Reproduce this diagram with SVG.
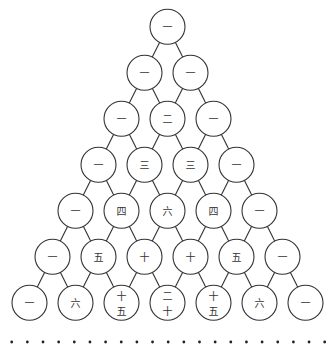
<svg xmlns="http://www.w3.org/2000/svg" width="327" height="344" viewBox="0 0 327 344">
<style>
.n circle{fill:#fff;stroke:#333;stroke-width:1.1}
.n text{font-family:"Noto Sans CJK SC","Noto Sans CJK JP",sans-serif;font-size:10px;fill:#333;text-anchor:middle;dominant-baseline:central}
#edges line{stroke:#333;stroke-width:1.1}
#dots circle{fill:#222}
</style>
<rect width="327" height="344" fill="#fff"/>
<g id="edges">
<line x1="159.67" y1="42.35" x2="152.33" y2="57.05"/><line x1="175.33" y1="42.35" x2="182.67" y2="57.05"/>
<line x1="136.67" y1="88.35" x2="129.33" y2="103.05"/><line x1="152.33" y1="88.35" x2="159.67" y2="103.05"/>
<line x1="182.67" y1="88.35" x2="175.33" y2="103.05"/><line x1="198.33" y1="88.35" x2="205.67" y2="103.05"/>
<line x1="113.67" y1="134.35" x2="106.33" y2="149.05"/><line x1="129.33" y1="134.35" x2="136.67" y2="149.05"/>
<line x1="159.67" y1="134.35" x2="152.33" y2="149.05"/><line x1="175.33" y1="134.35" x2="182.67" y2="149.05"/>
<line x1="205.67" y1="134.35" x2="198.33" y2="149.05"/><line x1="221.33" y1="134.35" x2="228.67" y2="149.05"/>
<line x1="90.67" y1="180.35" x2="83.33" y2="195.05"/><line x1="106.33" y1="180.35" x2="113.67" y2="195.05"/>
<line x1="136.67" y1="180.35" x2="129.33" y2="195.05"/><line x1="152.33" y1="180.35" x2="159.67" y2="195.05"/>
<line x1="182.67" y1="180.35" x2="175.33" y2="195.05"/><line x1="198.33" y1="180.35" x2="205.67" y2="195.05"/>
<line x1="228.67" y1="180.35" x2="221.33" y2="195.05"/><line x1="244.33" y1="180.35" x2="251.67" y2="195.05"/>
<line x1="67.67" y1="226.35" x2="60.33" y2="241.05"/><line x1="83.33" y1="226.35" x2="90.67" y2="241.05"/>
<line x1="113.67" y1="226.35" x2="106.33" y2="241.05"/><line x1="129.33" y1="226.35" x2="136.67" y2="241.05"/>
<line x1="159.67" y1="226.35" x2="152.33" y2="241.05"/><line x1="175.33" y1="226.35" x2="182.67" y2="241.05"/>
<line x1="205.67" y1="226.35" x2="198.33" y2="241.05"/><line x1="221.33" y1="226.35" x2="228.67" y2="241.05"/>
<line x1="251.67" y1="226.35" x2="244.33" y2="241.05"/><line x1="267.33" y1="226.35" x2="274.67" y2="241.05"/>
<line x1="44.67" y1="272.35" x2="37.33" y2="287.05"/><line x1="60.33" y1="272.35" x2="67.67" y2="287.05"/>
<line x1="90.67" y1="272.35" x2="83.33" y2="287.05"/><line x1="106.33" y1="272.35" x2="113.67" y2="287.05"/>
<line x1="136.67" y1="272.35" x2="129.33" y2="287.05"/><line x1="152.33" y1="272.35" x2="159.67" y2="287.05"/>
<line x1="182.67" y1="272.35" x2="175.33" y2="287.05"/><line x1="198.33" y1="272.35" x2="205.67" y2="287.05"/>
<line x1="228.67" y1="272.35" x2="221.33" y2="287.05"/><line x1="244.33" y1="272.35" x2="251.67" y2="287.05"/>
<line x1="274.67" y1="272.35" x2="267.33" y2="287.05"/><line x1="290.33" y1="272.35" x2="297.67" y2="287.05"/>
</g>
<g id="r0c0" class="n"><circle cx="167.5" cy="26.7" r="17.5"/><text x="167.5" y="26.7">一</text></g>
<g id="r1c0" class="n"><circle cx="144.5" cy="72.7" r="17.5"/><text x="144.5" y="72.7">一</text></g>
<g id="r1c1" class="n"><circle cx="190.5" cy="72.7" r="17.5"/><text x="190.5" y="72.7">一</text></g>
<g id="r2c0" class="n"><circle cx="121.5" cy="118.7" r="17.5"/><text x="121.5" y="118.7">一</text></g>
<g id="r2c1" class="n"><circle cx="167.5" cy="118.7" r="17.5"/><text x="167.5" y="118.7">二</text></g>
<g id="r2c2" class="n"><circle cx="213.5" cy="118.7" r="17.5"/><text x="213.5" y="118.7">一</text></g>
<g id="r3c0" class="n"><circle cx="98.5" cy="164.7" r="17.5"/><text x="98.5" y="164.7">一</text></g>
<g id="r3c1" class="n"><circle cx="144.5" cy="164.7" r="17.5"/><text x="144.5" y="164.7">三</text></g>
<g id="r3c2" class="n"><circle cx="190.5" cy="164.7" r="17.5"/><text x="190.5" y="164.7">三</text></g>
<g id="r3c3" class="n"><circle cx="236.5" cy="164.7" r="17.5"/><text x="236.5" y="164.7">一</text></g>
<g id="r4c0" class="n"><circle cx="75.5" cy="210.7" r="17.5"/><text x="75.5" y="210.7">一</text></g>
<g id="r4c1" class="n"><circle cx="121.5" cy="210.7" r="17.5"/><text x="121.5" y="210.7">四</text></g>
<g id="r4c2" class="n"><circle cx="167.5" cy="210.7" r="17.5"/><text x="167.5" y="210.7">六</text></g>
<g id="r4c3" class="n"><circle cx="213.5" cy="210.7" r="17.5"/><text x="213.5" y="210.7">四</text></g>
<g id="r4c4" class="n"><circle cx="259.5" cy="210.7" r="17.5"/><text x="259.5" y="210.7">一</text></g>
<g id="r5c0" class="n"><circle cx="52.5" cy="256.7" r="17.5"/><text x="52.5" y="256.7">一</text></g>
<g id="r5c1" class="n"><circle cx="98.5" cy="256.7" r="17.5"/><text x="98.5" y="256.7">五</text></g>
<g id="r5c2" class="n"><circle cx="144.5" cy="256.7" r="17.5"/><text x="144.5" y="256.7">十</text></g>
<g id="r5c3" class="n"><circle cx="190.5" cy="256.7" r="17.5"/><text x="190.5" y="256.7">十</text></g>
<g id="r5c4" class="n"><circle cx="236.5" cy="256.7" r="17.5"/><text x="236.5" y="256.7">五</text></g>
<g id="r5c5" class="n"><circle cx="282.5" cy="256.7" r="17.5"/><text x="282.5" y="256.7">一</text></g>
<g id="r6c0" class="n"><circle cx="29.5" cy="302.7" r="17.5"/><text x="29.5" y="302.7">一</text></g>
<g id="r6c1" class="n"><circle cx="75.5" cy="302.7" r="17.5"/><text x="75.5" y="302.7">六</text></g>
<g id="r6c2" class="n"><circle cx="121.5" cy="302.7" r="17.5"/><text x="121.5" y="295.2">十</text><text x="121.5" y="310.4">五</text></g>
<g id="r6c3" class="n"><circle cx="167.5" cy="302.7" r="17.5"/><text x="167.5" y="295.2">二</text><text x="167.5" y="310.4">十</text></g>
<g id="r6c4" class="n"><circle cx="213.5" cy="302.7" r="17.5"/><text x="213.5" y="295.2">十</text><text x="213.5" y="310.4">五</text></g>
<g id="r6c5" class="n"><circle cx="259.5" cy="302.7" r="17.5"/><text x="259.5" y="302.7">六</text></g>
<g id="r6c6" class="n"><circle cx="305.5" cy="302.7" r="17.5"/><text x="305.5" y="302.7">一</text></g>
<g id="dots">
<circle cx="11.7" cy="342" r="1.4"/><circle cx="27.35" cy="342" r="1.4"/><circle cx="43" cy="342" r="1.4"/><circle cx="58.65" cy="342" r="1.4"/><circle cx="74.3" cy="342" r="1.4"/><circle cx="89.95" cy="342" r="1.4"/><circle cx="105.6" cy="342" r="1.4"/><circle cx="121.25" cy="342" r="1.4"/><circle cx="136.9" cy="342" r="1.4"/><circle cx="152.55" cy="342" r="1.4"/><circle cx="168.2" cy="342" r="1.4"/><circle cx="183.85" cy="342" r="1.4"/><circle cx="199.5" cy="342" r="1.4"/><circle cx="215.15" cy="342" r="1.4"/><circle cx="230.8" cy="342" r="1.4"/><circle cx="246.45" cy="342" r="1.4"/><circle cx="262.1" cy="342" r="1.4"/><circle cx="277.75" cy="342" r="1.4"/><circle cx="293.4" cy="342" r="1.4"/><circle cx="309.05" cy="342" r="1.4"/><circle cx="324.7" cy="342" r="1.4"/>
</g>
</svg>
